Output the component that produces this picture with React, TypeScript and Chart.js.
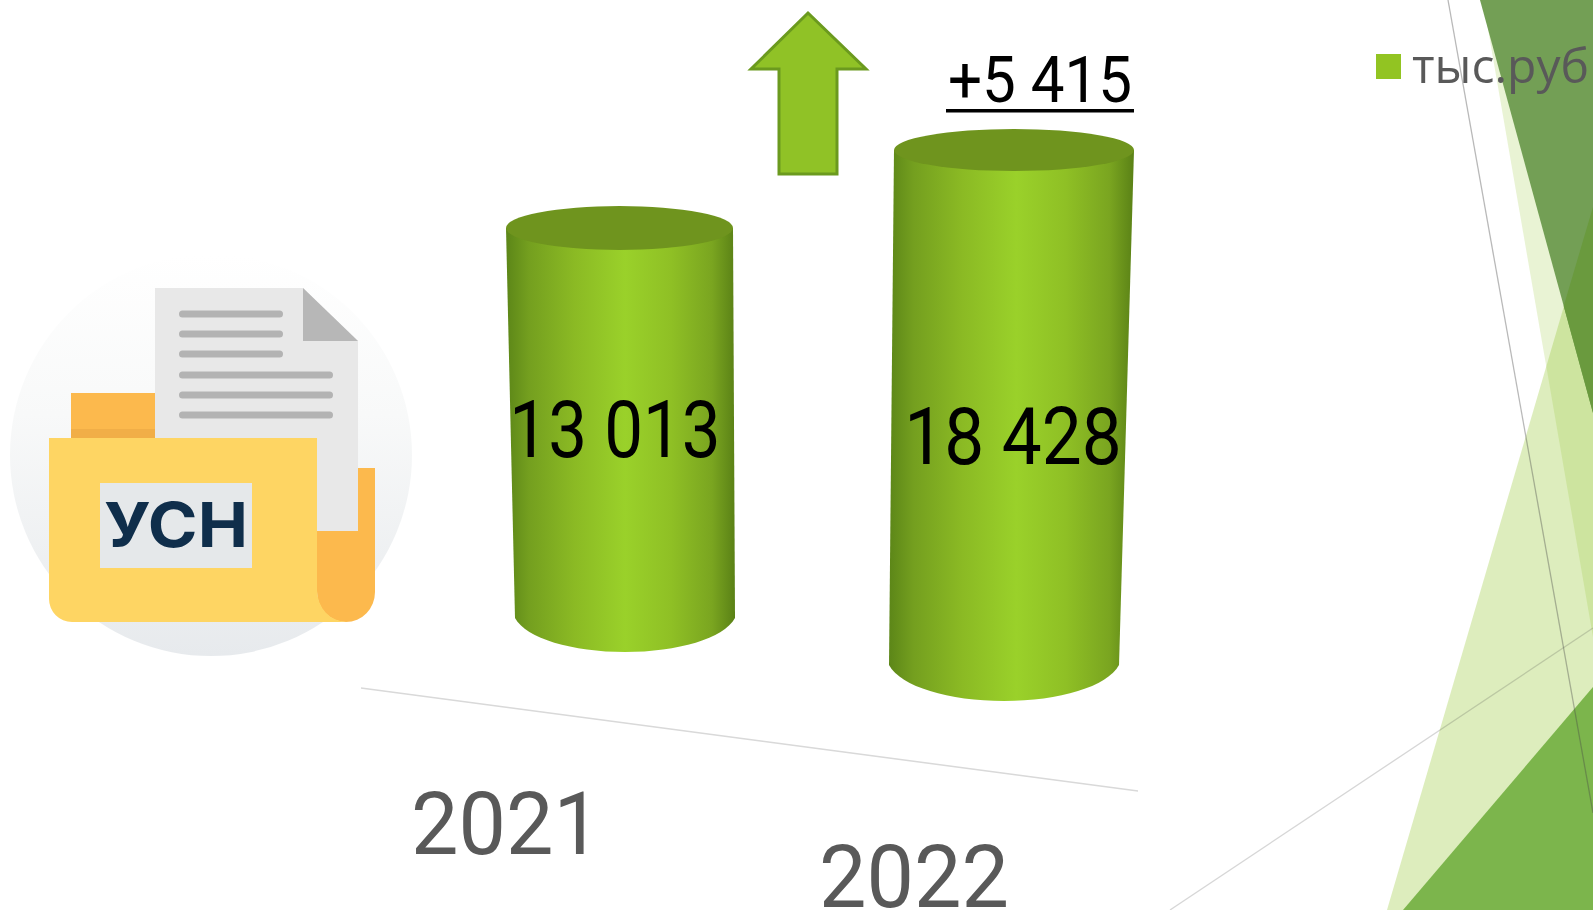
import React, { useEffect, useRef } from "react";
import { Chart, registerables } from "chart.js";

Chart.register(...registerables);

const categories = ["2021", "2022"];
const values2021 = [13013, null];
const values2022 = [null, 18428];
const seriesName = "тыс.руб";
const iconLabel = "УСН";

const fmt = (v: number) => String(v).replace(/\B(?=(\d{3})+$)/g, " ");
const delta = (values2022[1] as number) - (values2021[0] as number);
const deltaLabel = "+" + fmt(delta);

// perspective styling of each cylinder
const shape = [
  { topDx: -0.5, botDx: 5, topHalf: 113.5, botHalf: 110, topRy: 22, botRy: 34, labelDx: -5, labelDy: 6, labelSx: 0.875 },
  { topDx: 3, botDx: -7, topHalf: 120, botHalf: 115, topRy: 21, botRy: 36, labelDx: 2, labelDy: 28, labelSx: 0.9 },
];
const tickOffset = [
  { dx: -114, baseline: 854 },
  { dx: -97, baseline: 907 },
];

const drawStretched = (
  ctx: CanvasRenderingContext2D,
  text: string,
  x: number,
  baseline: number,
  size: number,
  sx: number,
  color: string
) => {
  ctx.save();
  ctx.translate(x, baseline);
  ctx.scale(sx, 1);
  ctx.font = `400 ${size}px Roboto`;
  ctx.textAlign = "center";
  ctx.textBaseline = "alphabetic";
  ctx.fillStyle = color;
  ctx.fillText(text, 0, 0);
  ctx.restore();
};

const cylinderPlugin = {
  id: "cylinders",
  afterLayout(chart: any) {
    const lg = chart.legend;
    lg.left = 1375;
    lg.right = 1593;
    lg.top = 33;
  },
  beforeDatasetDraw() {
    return false;
  },
  afterDatasetsDraw(chart: any) {
    const ctx: CanvasRenderingContext2D = chart.ctx;
    const xScale = chart.scales.x;

    // legend swatch in the series colour
    ctx.fillStyle = chart.data.datasets[0].backgroundColor;
    ctx.fillRect(1376, 54, 25, 25);

    // floor line
    ctx.save();
    ctx.strokeStyle = "#d9d9d9";
    ctx.lineWidth = 1.3;
    ctx.beginPath();
    ctx.moveTo(361, 688);
    ctx.lineTo(1138, 791);
    ctx.stroke();
    ctx.restore();

    chart.data.datasets.forEach((ds: any, di: number) => {
      const meta = chart.getDatasetMeta(di);
      meta.data.forEach((el: any, i: number) => {
        const v = ds.data[i];
        if (v == null) return;
        const s = shape[i];
        const cxT = el.x + s.topDx;
        const cxB = el.x + s.botDx;
        const yT = el.y;
        const yB = el.base;
        const left = Math.min(cxT - s.topHalf, cxB - s.botHalf);
        const right = Math.max(cxT + s.topHalf, cxB + s.botHalf);
        const g = ctx.createLinearGradient(left, 0, right, 0);
        g.addColorStop(0, "#5c8618");
        g.addColorStop(0.1, "#749f1f");
        g.addColorStop(0.3, "#8bba24");
        g.addColorStop(0.52, "#9ad12a");
        g.addColorStop(0.72, "#8fc025");
        g.addColorStop(0.9, "#7aa520");
        g.addColorStop(1, "#5a8116");
        ctx.save();
        ctx.beginPath();
        ctx.moveTo(cxT - s.topHalf, yT);
        ctx.lineTo(cxB - s.botHalf, yB);
        ctx.bezierCurveTo(
          cxB - s.botHalf * 0.9,
          yB + s.botRy * 0.6,
          cxB - s.botHalf * 0.48,
          yB + s.botRy,
          cxB,
          yB + s.botRy
        );
        ctx.bezierCurveTo(
          cxB + s.botHalf * 0.48,
          yB + s.botRy,
          cxB + s.botHalf * 0.9,
          yB + s.botRy * 0.6,
          cxB + s.botHalf,
          yB
        );
        ctx.lineTo(cxT + s.topHalf, yT);
        ctx.closePath();
        ctx.fillStyle = g;
        ctx.fill();
        ctx.beginPath();
        ctx.ellipse(cxT, yT, s.topHalf, s.topRy, 0, 0, Math.PI * 2);
        ctx.fillStyle = "#6f941e";
        ctx.fill();
        ctx.restore();

        drawStretched(
          ctx,
          fmt(v),
          el.x + s.labelDx,
          (yT + yB) / 2 + s.labelDy + 28,
          79,
          s.labelSx,
          "#000000"
        );
      });
    });

    // staggered category labels
    chart.data.labels.forEach((lab: string, i: number) => {
      const x = xScale.getPixelForTick(i) + tickOffset[i].dx;
      drawStretched(ctx, lab, x, tickOffset[i].baseline, 88, 0.96, "#595959");
    });

    // difference label
    drawStretched(ctx, deltaLabel, 1040, 102, 65, 0.925, "#000000");
    ctx.fillStyle = "#000000";
    ctx.fillRect(946, 109, 188, 3.5);
  },
};

function Icon() {
  const lines = [
    [179, 283, 314],
    [179, 283, 334],
    [179, 283, 354],
    [179, 333, 375],
    [179, 333, 395],
    [179, 333, 415],
  ];
  return (
    <g>
      <circle cx={211} cy={455} r={201} fill="url(#disc)" />
      <path d="M358 468 H375 V592 A29 30 0 0 1 317 592 V500 H358 Z" fill="#fcb94d" />
      <rect x={71} y={393} width={84} height={45} fill="#fcb94d" />
      <rect x={71} y={429} width={84} height={9} fill="#f1ae47" />
      <path d="M155 288 H303 L358 341 V531 H155 Z" fill="#e8e8e8" />
      <path d="M303 288 L358 341 H303 Z" fill="#b7b7b7" />
      {lines.map(([a, b, y], i) => (
        <rect key={i} x={a} y={y - 3.5} width={b - a} height={7} rx={3.5} fill="#b3b3b3" />
      ))}
      <path
        d="M49 438 H317 V590 A30 32 0 0 0 347 622 H72 A23 23 0 0 1 49 599 Z"
        fill="#fed563"
      />
      <rect x={100} y={483} width={152} height={85} fill="#e5e8ea" />
      <text
        x={104}
        y={547}
        fontFamily="Inter"
        fontWeight={700}
        fontSize={62}
        fill="#0f2e4b"
        textLength={144}
        lengthAdjust="spacingAndGlyphs"
      >
        {iconLabel}
      </text>
    </g>
  );
}

function Backdrop() {
  return (
    <svg
      width={1593}
      height={910}
      style={{ position: "absolute", left: 0, top: 0 }}
      xmlns="http://www.w3.org/2000/svg"
    >
      <defs>
        <linearGradient id="disc" x1="0" y1="0" x2="0" y2="1">
          <stop offset="0" stopColor="#ffffff" />
          <stop offset="0.4" stopColor="#f8f9f9" />
          <stop offset="1" stopColor="#e7eaed" />
        </linearGradient>
      </defs>
      <polygon points="1483,0 1593,0 1593,637" fill="rgba(144,194,38,0.2)" />
      <polygon points="1593,207 1593,910 1387,910" fill="rgba(144,194,38,0.3)" />
      <polygon points="1480,0 1593,0 1593,413" fill="#739f55" />
      <polygon points="1593,207 1593,413 1563.7,306" fill="#6a9a3e" />
      <polygon points="1593,687 1593,910 1403,910" fill="#7cb54c" />
      <line x1={1448} y1={0} x2={1593} y2={813} stroke="rgba(70,70,70,0.38)" strokeWidth={1.3} />
      <line x1={1170} y1={910} x2={1593} y2={628} stroke="rgba(70,70,70,0.22)" strokeWidth={1.3} />
      <polygon
        points="808,13 866,69 837,69 837,174 779,174 779,69 751,69"
        fill="#90c226"
        stroke="#6b9a1e"
        strokeWidth={3}
      />
      <Icon />
    </svg>
  );
}

export default function App() {
  const ref = useRef<HTMLCanvasElement>(null);
  useEffect(() => {
    const chart = new Chart(ref.current as HTMLCanvasElement, {
      type: "bar",
      data: {
        labels: categories,
        datasets: [
          { label: seriesName, data: values2021, yAxisID: "y1", backgroundColor: "#92c422" },
          { label: seriesName, data: values2022, yAxisID: "y2", backgroundColor: "#92c422" },
        ],
      },
      options: {
        animation: false,
        responsive: false,
        devicePixelRatio: 1,
        layout: { padding: { left: 424.5, right: 386.5, top: 26, bottom: 210 } },
        datasets: { bar: { categoryPercentage: 1, barPercentage: 0.6 } },
        scales: {
          x: { stacked: true, display: false },
          y1: { display: false, min: -2736, max: 17417 },
          y2: { display: false, min: -1252, max: 20360 },
        },
        plugins: {
          title: { display: false },
          tooltip: { enabled: false },
          legend: {
            position: "top",
            align: "start",
            labels: {
              boxWidth: 1,
              boxHeight: 1,
              padding: 12,
              color: "#595959",
              font: { family: "'Open Sans'", size: 48 },
              generateLabels: (chart: any) =>
                Chart.defaults.plugins.legend.labels
                  .generateLabels(chart)
                  .slice(0, 1)
                  .map((it: any) => ({
                    ...it,
                    fillStyle: "rgba(0,0,0,0)",
                    strokeStyle: "rgba(0,0,0,0)",
                  })),
            },
          },
        },
      },
      plugins: [cylinderPlugin],
    } as any);
    return () => chart.destroy();
  }, []);
  return (
    <div
      style={{
        position: "absolute",
        left: 0,
        top: 0,
        width: 1593,
        height: 910,
        overflow: "hidden",
        background: "#ffffff",
      }}
    >
      <Backdrop />
      <canvas
        ref={ref}
        width={1593}
        height={910}
        style={{ position: "absolute", left: 0, top: 0, width: 1593, height: 910 }}
      />
    </div>
  );
}
